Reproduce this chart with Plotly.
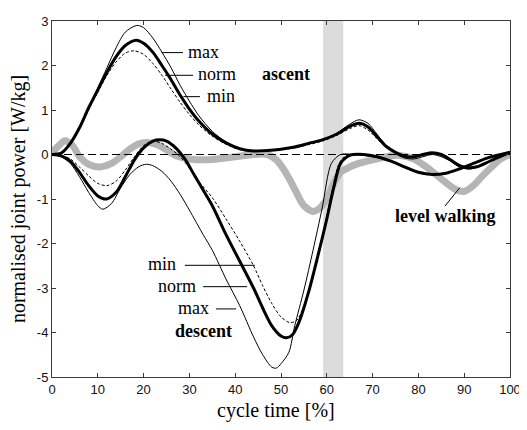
import plotly.graph_objects as go

# ---------------- data ----------------
asc_norm_x = [0, 2, 4, 6, 8, 10, 12, 14, 16, 18.4, 20, 22, 24, 26, 28, 30, 32, 35, 38, 41, 44, 47, 50, 53, 56, 59, 62, 65, 67, 69, 71, 73, 75, 77, 79, 81, 83, 85, 87, 89, 91, 93, 95, 97, 100]
asc_norm_y = [0, 0.03, 0.25, 0.6, 1.05, 1.45, 1.85, 2.2, 2.45, 2.57, 2.5, 2.3, 2.0, 1.68, 1.33, 1.02, 0.76, 0.46, 0.26, 0.13, 0.08, 0.09, 0.12, 0.17, 0.25, 0.33, 0.45, 0.63, 0.70, 0.62, 0.40, 0.18, 0.05, -0.04, -0.05, 0.0, 0.04, 0.0, -0.12, -0.25, -0.30, -0.27, -0.18, -0.08, 0.05]

asc_max_x = [0, 2, 4, 6, 8, 10, 12, 14, 16, 18.5, 20, 22, 24, 26, 28, 30, 32, 35, 38, 41, 44, 47, 50, 53, 56, 59, 62, 65, 67, 69, 71, 73, 75, 77, 79, 81, 83, 85, 87, 89, 91, 93, 95, 97, 100]
asc_max_y = [0, 0.03, 0.25, 0.6, 1.05, 1.5, 1.95, 2.4, 2.75, 2.9, 2.85, 2.62, 2.3, 1.95, 1.55, 1.2, 0.88, 0.52, 0.28, 0.13, 0.08, 0.09, 0.12, 0.17, 0.25, 0.33, 0.47, 0.68, 0.78, 0.70, 0.45, 0.20, 0.02, -0.08, -0.10, -0.05, 0.0, -0.05, -0.15, -0.28, -0.33, -0.28, -0.18, -0.08, 0.05]

asc_min_x = [0, 2, 4, 6, 8, 10, 12, 14, 16, 18, 20, 22, 24, 26, 28, 30, 32, 35, 38, 41, 44, 47, 50, 53, 56, 59, 62, 65, 67, 69, 71, 73, 75, 77, 79, 81, 83, 85, 87, 89, 91, 93, 95, 97, 100]
asc_min_y = [0, 0.03, 0.25, 0.6, 1.0, 1.4, 1.78, 2.08, 2.28, 2.33, 2.25, 2.05, 1.78, 1.47, 1.17, 0.9, 0.67, 0.41, 0.23, 0.11, 0.07, 0.08, 0.11, 0.15, 0.22, 0.30, 0.42, 0.58, 0.65, 0.55, 0.35, 0.15, 0.03, -0.05, -0.06, -0.02, 0.02, -0.02, -0.14, -0.27, -0.30, -0.26, -0.17, -0.07, 0.05]

desc_norm_x = [0, 2, 4, 6, 8, 10, 11.9, 14, 16, 18, 20, 22, 23.5, 25, 27, 29, 31, 33, 35, 38, 41, 44, 46, 48, 50, 51.2, 52.5, 54, 56, 58, 60, 61.5, 63, 65, 68, 71, 74, 77, 80, 83, 86, 89, 92, 95, 100]
desc_norm_y = [0, -0.03, -0.15, -0.4, -0.7, -0.93, -1.0, -0.85, -0.5, -0.12, 0.15, 0.3, 0.33, 0.3, 0.15, -0.1, -0.45, -0.8, -1.15, -1.8, -2.4, -3.0, -3.45, -3.85, -4.08, -4.12, -4.05, -3.75, -3.1, -2.3, -1.45, -0.75, -0.2, -0.02, 0.0, -0.05, -0.15, -0.28, -0.40, -0.45, -0.42, -0.32, -0.20, -0.08, 0.05]

desc_max_x = [0, 2, 4, 6, 8, 10, 11.1, 13, 15, 17, 19, 20.6, 22, 24, 26, 28, 30, 33, 35, 38, 41, 44, 46, 48, 49, 50, 51.7, 53, 55, 57, 59, 61, 63, 66, 70, 74, 77, 80, 83, 86, 89, 92, 95, 100]
desc_max_y = [0, -0.05, -0.2, -0.5, -0.85, -1.15, -1.23, -1.1, -0.75, -0.45, -0.27, -0.22, -0.25, -0.38, -0.6, -0.9, -1.25, -1.8, -2.15, -2.8, -3.4, -4.1, -4.5, -4.78, -4.8, -4.7, -4.45, -3.85, -3.05, -2.15, -1.2, -0.2, 0.0, 0.0, -0.05, -0.15, -0.30, -0.42, -0.45, -0.42, -0.32, -0.20, -0.08, 0.05]

desc_min_x = [0, 2, 4, 6, 8, 10, 12, 14, 16, 18, 20, 22, 24, 26, 28, 30, 32, 35, 38, 41, 44, 46, 48, 50, 52, 53.5, 55, 57, 59, 61, 62.5, 64, 67, 71, 74, 77, 80, 83, 86, 89, 92, 95, 100]
desc_min_y = [0, -0.02, -0.1, -0.28, -0.48, -0.65, -0.7, -0.6, -0.35, -0.05, 0.2, 0.3, 0.25, 0.12, -0.05, -0.3, -0.6, -0.97, -1.45, -1.95, -2.5, -2.95, -3.35, -3.65, -3.78, -3.72, -3.4, -2.75, -1.85, -0.9, -0.25, -0.03, 0.0, -0.05, -0.15, -0.28, -0.40, -0.44, -0.42, -0.32, -0.20, -0.08, 0.05]

level_x = [0, 1.5, 2.8, 4.5, 6, 8, 10.4, 13, 15, 17, 19, 20.6, 23, 25, 27, 30, 33, 36, 40, 44, 47, 49, 51, 53, 55, 57, 58.5, 60, 61.5, 63, 65, 67, 70, 73, 76, 79, 82, 85, 88, 90, 92, 94, 96, 98, 100]
level_y = [0.05, 0.2, 0.31, 0.2, -0.05, -0.22, -0.28, -0.2, -0.05, 0.12, 0.24, 0.27, 0.22, 0.1, -0.02, -0.1, -0.12, -0.1, -0.05, 0.0, 0.0, -0.12, -0.4, -0.78, -1.15, -1.28, -1.2, -1.0, -0.65, -0.4, -0.28, -0.2, -0.12, -0.05, -0.02, -0.1, -0.3, -0.55, -0.78, -0.83, -0.7, -0.48, -0.28, -0.1, 0.0]

x_ticks = [0, 10, 20, 30, 40, 50, 60, 70, 80, 90, 100]
y_ticks = [-5, -4, -3, -2, -1, 0, 1, 2, 3]

band_x = [59.2, 63.6]

SERIF = "Liberation Serif, Times New Roman, serif"
SANS = "Liberation Sans, Arial, sans-serif"

fig = go.Figure()

def add(x, y, width, color="black", dash="solid"):
    fig.add_trace(go.Scatter(x=x, y=y, mode="lines",
                             line=dict(color=color, width=width, dash=dash, shape="spline", smoothing=0.8),
                             hoverinfo="skip", showlegend=False))

# level walking (grey, thick)
add(level_x, level_y, 7, color="#b5b5b5")
# ascent
add(asc_min_x, asc_min_y, 1, dash="3px,2px")
add(asc_max_x, asc_max_y, 1)
add(asc_norm_x, asc_norm_y, 3)
# descent
add(desc_min_x, desc_min_y, 1, dash="3px,2px")
add(desc_max_x, desc_max_y, 1)
add(desc_norm_x, desc_norm_y, 3)

# zero dashed line
fig.add_shape(type="line", x0=0, x1=100, y0=0, y1=0, xref="x", yref="y",
              line=dict(color="black", width=1, dash="8px,4px"), layer="above")
# grey band
fig.add_shape(type="rect", x0=band_x[0], x1=band_x[1], y0=-5, y1=3, xref="x", yref="y",
              fillcolor="#dcdcdc", line=dict(width=0), layer="below")

# label connector lines
connectors = [
    (23.95, 28.6, 2.29), (24.7, 30.8, 1.78), (28.7, 32.3, 1.30),
    (29.0, 44.3, -2.49), (33.0, 42.6, -2.97), (35.8, 40.2, -3.47),
]
for x0, x1, yy in connectors:
    fig.add_shape(type="line", x0=x0, x1=x1, y0=yy, y1=yy, xref="x", yref="y",
                  line=dict(color="black", width=1))
fig.add_shape(type="line", x0=85.8, x1=89.0, y0=-1.16, y1=-0.75, xref="x", yref="y",
              line=dict(color="black", width=1))

def label(text, x, y, anchor, bold=False):
    fig.add_annotation(x=x, y=y, xref="x", yref="y", text=("<b>%s</b>" % text) if bold else text,
                       showarrow=False, xanchor=anchor, yanchor="middle",
                       font=dict(family=SERIF, size=18, color="black"))

label("max", 29.2, 2.31, "left")
label("norm", 31.4, 1.80, "left")
label("min", 33.4, 1.32, "left")
label("ascent", 45.4, 1.80, "left", bold=True)
label("min", 27.5, -2.47, "right")
label("norm", 31.9, -2.95, "right")
label("max", 34.7, -3.45, "right")
label("descent", 26.4, -3.97, "left", bold=True)
label("level walking", 86.0, -1.39, "center", bold=True)

# axis titles
fig.add_annotation(x=0.49, y=-0.094, xref="paper", yref="paper", text="cycle time [%]",
                   showarrow=False, xanchor="center", yanchor="middle",
                   font=dict(family=SERIF, size=20, color="black"))
fig.add_annotation(x=-0.074, y=0.5, xref="paper", yref="paper", text="normalised joint power [W/kg]",
                   showarrow=False, xanchor="center", yanchor="middle", textangle=-90,
                   font=dict(family=SERIF, size=20, color="black"))

axis_common = dict(showgrid=False, zeroline=False, showline=True, linecolor="#3a3a3a", linewidth=1,
                   mirror="ticks", ticks="inside", ticklen=4, tickcolor="#3a3a3a",
                   ticklabeloverflow="allow",
                   tickfont=dict(family=SANS, size=13, color="#111111"))
fig.update_xaxes(range=[0, 100], tickvals=x_ticks, ticktext=[str(v) for v in x_ticks], **axis_common)
fig.update_yaxes(range=[-5, 3], tickvals=y_ticks, ticktext=[str(v) for v in y_ticks], **axis_common)

# the page body adds an 8px margin, so the figure is 8px smaller and its margins shifted
fig.update_layout(width=519, height=422, margin=dict(l=44, r=14, t=6, b=53),
                  paper_bgcolor="white", plot_bgcolor="white", showlegend=False)

fig.write_html("out.html")
